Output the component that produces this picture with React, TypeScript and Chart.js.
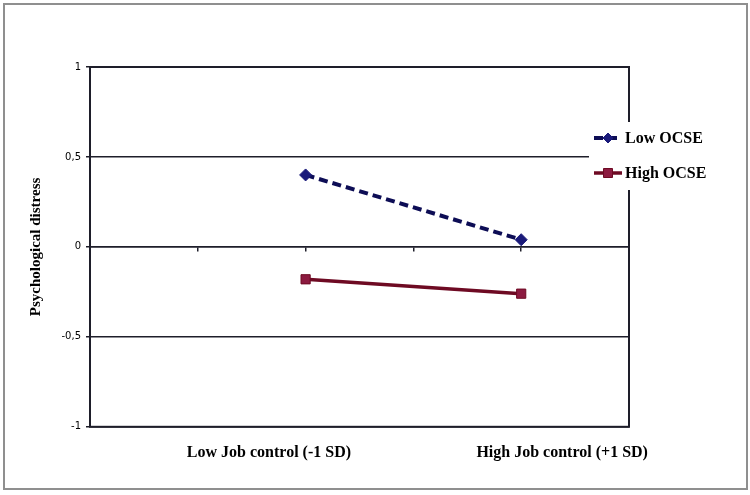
import React, { useEffect, useRef } from "react";
import { Chart, registerables } from "chart.js";

Chart.register(...registerables);

// ---- data ----
const categories = ["Low Job control (-1 SD)", "High Job control (+1 SD)"];
const axisSlots = ["", "", categories[0], "", categories[1], ""];
const lowOCSE = [0.4, 0.04];
const highOCSE = [-0.18, -0.26];
const seriesNames = ["Low OCSE", "High OCSE"];
const yMin = -1;
const yMax = 1;
const yStep = 0.5;
// where the two bottom captions sit on a 0..5 label scale
const captionSlots = [1.66, 4.38];

const LOW_LINE = "#0d0d55";
const LOW_MARK = "#1a1a7a";
const HIGH_LINE = "#6e0a23";
const HIGH_MARK = "#8c1a40";

const frame = {
  id: "frame",
  afterDatasetsDraw(chart: any) {
    const { ctx, chartArea } = chart;
    ctx.save();
    ctx.strokeStyle = "#1e1e2a";
    ctx.lineWidth = 2;
    ctx.strokeRect(chartArea.left, chartArea.top, chartArea.right - chartArea.left, chartArea.bottom - chartArea.top);
    ctx.restore();
  },
};

const legendPlugin = {
  id: "sideLegend",
  afterDraw(chart: any) {
    const { ctx, chartArea } = chart;
    const x0 = chartArea.right - 40;
    const y0 = chartArea.top + 55;
    ctx.save();
    ctx.fillStyle = "#ffffff";
    ctx.fillRect(x0, y0, 124, 68);
    chart.data.datasets.forEach((ds: any, i: number) => {
      const cy = y0 + 16 + i * 35;
      ctx.save();
      ctx.strokeStyle = ds.borderColor;
      ctx.lineWidth = ds.borderWidth;
      ctx.setLineDash(ds.borderDash || []);
      ctx.beginPath();
      ctx.moveTo(x0 + 5, cy);
      ctx.lineTo(x0 + 33, cy);
      ctx.stroke();
      ctx.restore();
      const mx = x0 + 19;
      ctx.fillStyle = ds.pointBackgroundColor;
      ctx.strokeStyle = ds.pointBorderColor;
      ctx.lineWidth = 1;
      ctx.beginPath();
      if (ds.pointStyle === "rectRot") {
        const r = 5;
        ctx.moveTo(mx - r, cy);
        ctx.lineTo(mx, cy - r);
        ctx.lineTo(mx + r, cy);
        ctx.lineTo(mx, cy + r);
        ctx.closePath();
      } else {
        const h = 4.5;
        ctx.rect(mx - h, cy - h, 2 * h, 2 * h);
      }
      ctx.fill();
      ctx.stroke();
      ctx.fillStyle = "#000";
      ctx.font = "bold 16px 'Liberation Serif', 'Times New Roman', serif";
      ctx.textBaseline = "middle";
      ctx.textAlign = "left";
      ctx.fillText(ds.label, x0 + 36, cy + 1);
    });
    ctx.restore();
  },
};

export default function App() {
  const ref = useRef<HTMLCanvasElement | null>(null);

  useEffect(() => {
    if (!ref.current) return;
    const chart = new Chart(ref.current, {
      type: "line",
      data: {
        labels: axisSlots,
        datasets: [
          {
            label: seriesNames[0],
            data: categories.map((c, i) => ({ x: c, y: lowOCSE[i] })),
            borderColor: LOW_LINE,
            borderWidth: 4,
            borderDash: [9, 5],
            pointStyle: "rectRot",
            pointRadius: 6,
            pointBackgroundColor: LOW_MARK,
            pointBorderColor: LOW_MARK,
            pointBorderWidth: 1,
            tension: 0,
            fill: false,
          },
          {
            label: seriesNames[1],
            data: categories.map((c, i) => ({ x: c, y: highOCSE[i] })),
            borderColor: HIGH_LINE,
            borderWidth: 3.5,
            pointStyle: "rect",
            pointRadius: 6.5,
            pointBackgroundColor: HIGH_MARK,
            pointBorderColor: HIGH_LINE,
            pointBorderWidth: 1,
            tension: 0,
            fill: false,
          },
        ],
      } as any,
      options: {
        animation: false,
        responsive: false,
        devicePixelRatio: 1,
        layout: { padding: { top: 67, right: 121, bottom: 17, left: 0 } },
        plugins: {
          legend: { display: false },
          tooltip: { enabled: false },
        },
        scales: {
          x: {
            type: "category",
            position: { y: 0 } as any,
            offset: false,
            ticks: { display: false },
            grid: {
              drawOnChartArea: false,
              drawTicks: true,
              tickLength: 4,
              color: "#1e1e2a",
              lineWidth: 1.5,
            },
            border: { display: true, color: "#1e1e2a", width: 1.5 },
          },
          xCap: {
            type: "linear",
            position: "bottom",
            min: 0,
            max: 5,
            afterBuildTicks: (scale: any) => {
              scale.ticks = captionSlots.map((v) => ({ value: v }));
            },
            ticks: {
              autoSkip: false,
              maxRotation: 0,
              padding: 16,
              color: "#000",
              font: { family: "'Liberation Serif', 'Times New Roman', serif", size: 16, weight: "bold" },
              callback: (_v: any, i: number) => categories[i],
            },
            grid: { display: false, drawTicks: false },
            border: { display: false },
          },
          y: {
            type: "linear",
            min: yMin,
            max: yMax,
            afterFit: (scale: any) => {
              scale.width = 90;
            },
            ticks: {
              stepSize: yStep,
              padding: 5,
              color: "#000",
              font: { family: "'DejaVu Sans', sans-serif", size: 10 },
              callback: (v: any) => String(v).replace(".", ","),
            },
            grid: {
              color: "#1e1e2a",
              lineWidth: 1.5,
              tickLength: 4,
            },
            border: { display: true, color: "#1e1e2a", width: 2 },
            title: {
              display: true,
              text: "Psychological distress",
              color: "#000",
              padding: { top: 27, bottom: 0 },
              font: { family: "'Liberation Serif', 'Times New Roman', serif", size: 15, weight: "bold" },
            },
          },
        },
      } as any,
      plugins: [frame, legendPlugin],
    });
    return () => chart.destroy();
  }, []);

  return (
    <div
      style={{
        position: "fixed",
        left: 0,
        top: 0,
        width: 750,
        height: 495,
        background: "#fff",
      }}
    >
      <canvas ref={ref} width={750} height={495} style={{ position: "absolute", left: 0, top: 0 }} />
      <div
        style={{
          position: "absolute",
          left: 3,
          top: 3,
          width: 745,
          height: 487,
          boxSizing: "border-box",
          border: "2px solid #8f8f8f",
          pointerEvents: "none",
        }}
      />
    </div>
  );
}
